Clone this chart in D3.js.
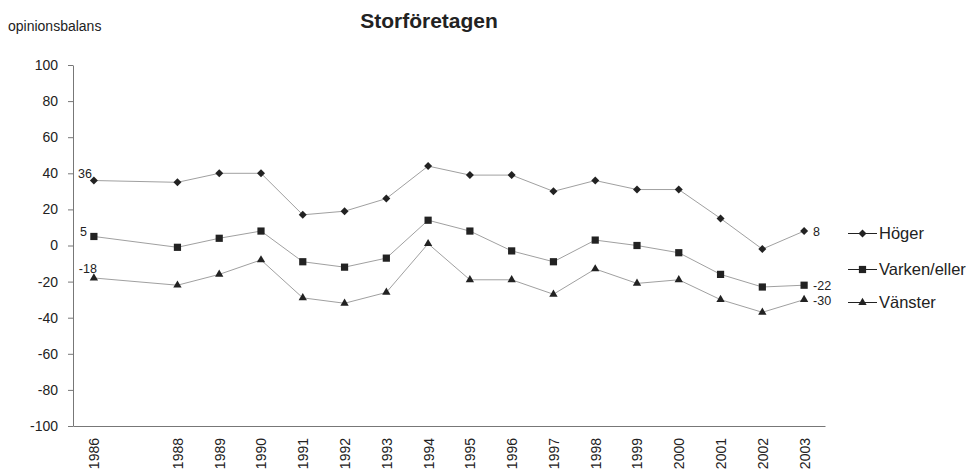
<!DOCTYPE html>
<html lang="sv">
<head>
<meta charset="UTF-8">
<title>Storföretagen</title>
<script src="https://d3js.org/d3.v7.min.js"></script>
<style>
    body { margin: 0; background: #fff; }
    text { font-family: Arial, 'Liberation Sans', sans-serif; fill: #222; }
</style>
</head>
<body>
<script>
    const width = 973;
    const height = 471;

    const years = [1986, 1988, 1989, 1990, 1991, 1992, 1993, 1994, 1995, 1996, 1997, 1998, 1999, 2000, 2001, 2002, 2003];
    const hoger =   [36, 35, 40, 40, 17, 19, 26, 44, 39, 39, 30, 36, 31, 31, 15, -2, 8];
    const varken =  [5, -1, 4, 8, -9, -12, -7, 14, 8, -3, -9, 3, 0, -4, -16, -23, -22];
    const vanster = [-18, -22, -16, -8, -29, -32, -26, 1, -19, -19, -27, -13, -21, -19, -30, -37, -30];
    const yTicks = [100, 80, 60, 40, 20, 0, -20, -40, -60, -80, -100];

    // square diamond (rotated square) rather than d3's tall diamond
    const squareDiamond = {
        draw(ctx, size) {
            const r = Math.sqrt(size / 2);
            ctx.moveTo(0, -r);
            ctx.lineTo(r, 0);
            ctx.lineTo(0, r);
            ctx.lineTo(-r, 0);
            ctx.closePath();
        }
    };

    const series = [
        {name: 'Höger', values: hoger, shape: squareDiamond, size: 32, first: [-2, -3]},
        {name: 'Varken/eller', values: varken, shape: d3.symbolSquare, size: 52, first: [-7, 0]},
        {name: 'Vänster', values: vanster, shape: d3.symbolTriangle, size: 30, first: [3, -5]}
    ];

    const x = d3.scaleLinear().domain([1985.5, 2003.5]).range([73, 825]);
    const y = d3.scaleLinear().domain([-100, 100]).range([426, 65]);

    const svg = d3.select('body').append('svg')
        .attr('width', width)
        .attr('height', height);

    svg.append('text')
        .attr('x', 8).attr('y', 31)
        .style('font-size', '14px')
        .text('opinionsbalans');

    svg.append('text')
        .attr('x', 429).attr('y', 28)
        .attr('text-anchor', 'middle')
        .style('font-size', '21px')
        .style('font-weight', 'bold')
        .text('Storföretagen');

    // y axis
    const yAxis = svg.append('g')
        .attr('transform', 'translate(73,0)')
        .call(d3.axisLeft(y).tickValues(yTicks).tickFormat(d => String(d)).tickSize(5).tickPadding(10));
    yAxis.selectAll('text').style('font-size', '14px').attr('fill', '#222');
    yAxis.selectAll('line, path').attr('stroke', '#777');
    yAxis.select('.domain').attr('d', 'M0.5,65.5V426.5');

    // x axis
    const xAxis = svg.append('g')
        .attr('transform', 'translate(0,426)')
        .call(d3.axisBottom(x).tickValues(years).tickFormat(d3.format('d')).tickSize(0));
    xAxis.select('.domain').attr('stroke', '#777');
    xAxis.selectAll('text')
        .style('font-size', '14px')
        .attr('fill', '#222')
        .attr('transform', 'rotate(-90)')
        .attr('text-anchor', 'end')
        .attr('x', -12)
        .attr('y', 0)
        .attr('dy', '0.35em');

    const line = d3.line()
        .x((d, i) => x(years[i]))
        .y(d => y(d));

    series.forEach(s => {
        svg.append('path')
            .datum(s.values)
            .attr('fill', 'none')
            .attr('stroke', '#a0a0a0')
            .attr('stroke-width', 1)
            .attr('d', line);

        svg.selectAll(null)
            .data(s.values)
            .enter()
            .append('path')
            .attr('d', d3.symbol().type(s.shape).size(s.size))
            .attr('transform', (d, i) => 'translate(' + x(years[i]) + ',' + y(d) + ')')
            .attr('fill', '#222');

        // first and last value labels
        const first = s.values[0];
        const last = s.values[s.values.length - 1];
        svg.append('text')
            .attr('x', x(years[0]) + s.first[0])
            .attr('y', y(first) + s.first[1])
            .attr('text-anchor', 'end')
            .style('font-size', '12.5px')
            .text(String(first));
        svg.append('text')
            .attr('x', x(years[years.length - 1]) + 9)
            .attr('y', y(last) + 5)
            .style('font-size', '12.5px')
            .text(String(last));
    });

    // legend
    const legendY = [233, 269, 302];
    series.forEach((s, i) => {
        const g = svg.append('g').attr('transform', 'translate(848,' + legendY[i] + ')');
        g.append('line')
            .attr('x1', 0).attr('x2', 29)
            .attr('y1', 0.5).attr('y2', 0.5)
            .attr('stroke', '#222').attr('stroke-width', 1);
        g.append('path')
            .attr('d', d3.symbol().type(s.shape).size(s.size))
            .attr('transform', 'translate(14.5,0.5)')
            .attr('fill', '#222');
        g.append('text')
            .attr('x', 31).attr('y', 6)
            .style('font-size', '16.5px')
            .text(s.name);
    });
</script>
</body>
</html>
